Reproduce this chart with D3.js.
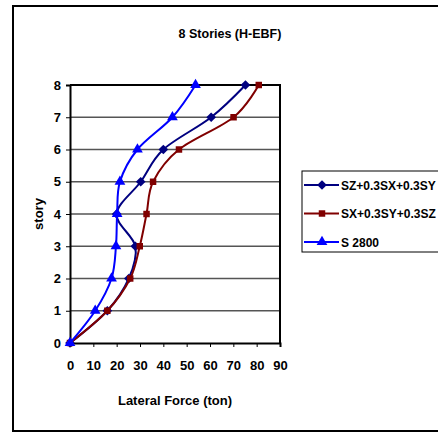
<!DOCTYPE html>
<html>
<head>
<meta charset="utf-8">
<script src="https://cdn.jsdelivr.net/npm/d3@7"></script>
<style>
  html, body { margin: 0; padding: 0; background: #fff; }
  svg { display: block; }
  text { font-family: "Liberation Sans", Arial, sans-serif; font-weight: bold; fill: #000; }
</style>
</head>
<body>
<svg id="chart" width="438" height="434"></svg>
<script>
// Story levels (vertical axis) and lateral force per story for each load case
const stories = [0, 1, 2, 3, 4, 5, 6, 7, 8];
const szValues = [0, 16, 25.2, 28, 20, 30.3, 40, 60.5, 75.2];
const sxValues = [0, 16, 25.8, 29.9, 32.8, 35.6, 46.7, 70.1, 80.9];
const s2800Values = [0, 10.8, 17.8, 19.7, 20.2, 21.4, 28.9, 43.9, 53.8];
const seriesNames = ["SZ+0.3SX+0.3SY", "SX+0.3SY+0.3SZ", "S 2800"];
const xTicks = [0, 10, 20, 30, 40, 50, 60, 70, 80, 90];
const yTicks = [0, 1, 2, 3, 4, 5, 6, 7, 8];

const series = [
  { name: seriesNames[0], values: szValues, color: "#000080", marker: "diamond" },
  { name: seriesNames[1], values: sxValues, color: "#800000", marker: "square" },
  { name: seriesNames[2], values: s2800Values, color: "#0000FF", marker: "triangle" }
];

const svg = d3.select("#chart");

// Outer chart frame
svg.append("rect")
  .attr("x", 13).attr("y", 6).attr("width", 440).attr("height", 425)
  .attr("fill", "#fff").attr("stroke", "#000").attr("stroke-width", 2);

const plot = { left: 70, right: 280, top: 85, bottom: 343 };

const x = d3.scaleLinear().domain([0, 90]).range([plot.left, plot.right]);
const y = d3.scaleLinear().domain([0, 8]).range([plot.bottom, plot.top]);

// Title
svg.append("text")
  .attr("x", 230).attr("y", 37.5)
  .attr("text-anchor", "middle")
  .style("font-size", "12.5px")
  .text("8 Stories (H-EBF)");

// Horizontal gridlines
svg.append("g")
  .selectAll("line")
  .data(yTicks.slice(1, -1))
  .join("line")
  .attr("x1", plot.left).attr("x2", plot.right)
  .attr("y1", d => y(d)).attr("y2", d => y(d))
  .attr("stroke", "#555").attr("stroke-width", 1.5);

// Plot area border (top and right)
svg.append("path")
  .attr("d", `M${plot.left},${plot.top}H${plot.right}V${plot.bottom}`)
  .attr("fill", "none").attr("stroke", "#000").attr("stroke-width", 2);

const tickFont = sel => sel
  .style("font-size", "13px")
  .style("font-family", "'Liberation Sans', Arial, sans-serif")
  .style("font-weight", "bold");

// X axis
const xAxis = svg.append("g")
  .attr("transform", `translate(0,${plot.bottom})`)
  .call(d3.axisBottom(x).tickValues(xTicks).tickSize(4).tickPadding(14));
xAxis.select(".domain").attr("stroke", "#000").attr("stroke-width", 2);
xAxis.selectAll(".tick line").attr("stroke", "#000").attr("stroke-width", 1);
xAxis.selectAll(".tick text").call(tickFont);

// Y axis
const yAxis = svg.append("g")
  .attr("transform", `translate(${plot.left},0)`)
  .call(d3.axisLeft(y).tickValues(yTicks).tickSize(4).tickPadding(5));
yAxis.select(".domain").attr("stroke", "#000").attr("stroke-width", 2);
yAxis.selectAll(".tick line").attr("stroke", "#000").attr("stroke-width", 1);
yAxis.selectAll(".tick text").call(tickFont);

// Axis titles
svg.append("text")
  .attr("x", 175).attr("y", 404.5)
  .attr("text-anchor", "middle")
  .style("font-size", "13px")
  .text("Lateral Force (ton)");

svg.append("text")
  .attr("transform", `translate(43,214) rotate(-90)`)
  .attr("text-anchor", "middle")
  .style("font-size", "13px")
  .text("story");

// Marker shapes
const symbolFor = {
  diamond: d3.symbol().type(d3.symbolDiamond2).size(60),
  square: d3.symbol().type(d3.symbolSquare).size(42),
  triangle: d3.symbol().type(d3.symbolTriangle).size(50)
};

const line = d3.line()
  .x(d => x(d.v))
  .y(d => y(d.s))
  .curve(d3.curveCatmullRom.alpha(0));

series.forEach(sr => {
  const pts = stories.map((s, i) => ({ s, v: sr.values[i] }));
  const g = svg.append("g");
  g.append("path")
    .datum(pts)
    .attr("d", line)
    .attr("fill", "none")
    .attr("stroke", sr.color)
    .attr("stroke-width", 2);
  g.selectAll("path.m")
    .data(pts)
    .join("path")
    .attr("class", "m")
    .attr("transform", d => `translate(${x(d.v)},${y(d.s)})`)
    .attr("d", symbolFor[sr.marker]())
    .attr("fill", sr.color);
});

// Legend
const legend = svg.append("g");
legend.append("rect")
  .attr("x", 302).attr("y", 171).attr("width", 150).attr("height", 81)
  .attr("fill", "#fff").attr("stroke", "#000").attr("stroke-width", 1);

series.forEach((sr, i) => {
  const ly = 185 + i * 28.5;
  legend.append("line")
    .attr("x1", 304).attr("x2", 339).attr("y1", ly).attr("y2", ly)
    .attr("stroke", sr.color).attr("stroke-width", 2);
  legend.append("path")
    .attr("transform", `translate(322,${ly})`)
    .attr("d", symbolFor[sr.marker]())
    .attr("fill", sr.color);
  legend.append("text")
    .attr("x", 341).attr("y", ly + 4.5)
    .style("font-size", "12px")
    .text(sr.name);
});
</script>
</body>
</html>
